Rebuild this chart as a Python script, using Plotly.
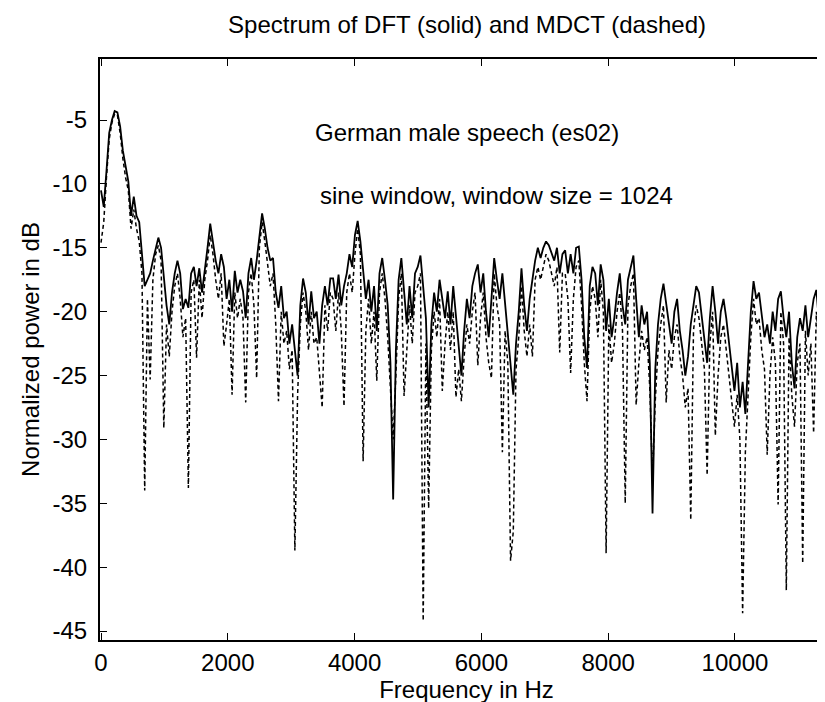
import numpy as np
import plotly.graph_objects as go

# Frequency bins: 1024-point transform at 44.1 kHz -> bin spacing 43.07 Hz
FS = 44100.0
NFFT = 1024
N_BINS = 270
freq_hz = np.arange(N_BINS) * FS / NFFT

# DFT spectrum (solid), dB
dft_db = [
    -10.5, -11.8, -9.0, -6.0, -5.0, -4.3, -4.4, -5.5, -7.4, -8.5,
    -9.8, -12.5, -11.0, -12.5, -13.0, -15.5, -18.0, -17.5, -17.0, -16.0,
    -15.0, -14.2, -15.0, -17.5, -19.5, -21.0, -18.5, -17.0, -16.0, -17.0,
    -19.8, -19.0, -19.7, -17.0, -16.5, -18.0, -16.6, -18.5, -16.5, -15.0,
    -13.1, -14.5, -16.0, -17.0, -15.5, -16.5, -19.0, -17.5, -20.0, -16.8,
    -18.5, -17.5, -18.4, -20.5, -17.0, -15.8, -17.5, -16.0, -14.0, -12.3,
    -13.5, -15.0, -16.0, -15.8, -18.5, -19.7, -18.0, -20.5, -20.0, -22.5,
    -21.0, -23.0, -25.0, -19.5, -17.4, -18.5, -21.0, -18.4, -20.5, -20.0,
    -22.5, -19.5, -18.0, -19.5, -17.4, -17.4, -19.0, -17.1, -19.5, -18.0,
    -17.0, -15.5, -16.5, -14.0, -12.9, -14.5, -17.0, -19.0, -17.5, -20.0,
    -18.0, -21.5, -17.0, -15.8, -17.5, -19.5, -24.0, -34.7, -23.0, -17.5,
    -15.8, -18.5, -21.0, -18.0, -20.5, -17.0, -16.5, -15.6, -18.0, -20.5,
    -27.5, -21.0, -18.5, -20.0, -17.5, -19.0, -20.5, -18.4, -21.0, -18.0,
    -20.5, -22.5, -25.0, -21.5, -19.0, -20.5, -18.0, -17.0, -16.3, -18.5,
    -17.0, -20.0, -22.0, -19.0, -15.8, -17.5, -19.0, -17.0, -19.5, -22.0,
    -24.0, -26.5, -22.5, -20.0, -16.6, -19.5, -21.5, -19.0, -17.5, -16.0,
    -15.0, -15.8, -15.0, -14.5, -14.8, -15.5, -16.0, -15.0, -17.0, -15.5,
    -15.2, -17.0, -15.5, -17.0, -15.0, -14.9, -17.5, -22.0, -24.4, -18.0,
    -16.5, -17.0, -19.5, -16.3, -17.5, -21.5, -19.0, -22.0, -20.5, -18.5,
    -17.0, -19.5, -21.0, -17.5, -16.5, -15.6, -19.0, -22.0, -19.5, -21.0,
    -20.0, -24.0, -35.8, -24.5, -21.0, -19.0, -17.8, -19.5, -21.0, -22.5,
    -20.0, -19.0, -21.5, -23.0, -25.0, -23.5, -21.0, -19.5, -18.0, -18.5,
    -20.5, -22.5, -24.0, -20.5, -18.0, -20.0, -22.5, -20.0, -19.0, -20.5,
    -22.5, -24.5, -26.2, -24.0, -27.5, -25.5, -28.0, -24.0, -20.0, -17.6,
    -19.0, -18.5, -20.5, -22.0, -21.0, -22.5, -20.0, -21.5, -19.0, -18.4,
    -20.5, -22.0, -20.0, -24.0, -26.0, -22.0, -20.5, -21.5, -19.5, -22.0,
    -20.5, -19.0, -18.3, -21.0, -23.5, -22.0, -25.0, -27.5, -25.5, -23.5,
]

# MDCT spectrum (dashed), dB
mdct_db = [
    -14.6, -13.0, -9.5, -6.5, -5.2, -4.5, -4.6, -6.0, -8.0, -9.5,
    -10.5, -13.5, -12.0, -13.5, -14.5, -17.0, -34.0, -19.0, -25.3, -17.5,
    -15.5, -14.8, -16.0, -29.1, -21.0, -23.5, -20.0, -18.0, -17.0, -19.0,
    -22.0, -20.5, -33.8, -18.5, -17.5, -23.6, -17.5, -20.5, -17.5, -16.0,
    -14.0, -15.5, -17.5, -19.0, -17.0, -22.7, -21.0, -19.0, -26.5, -18.5,
    -20.5, -19.0, -20.5, -27.1, -18.5, -17.0, -19.5, -25.2, -15.0, -13.0,
    -14.5, -16.5, -18.0, -17.0, -21.0, -27.0, -20.0, -22.5, -21.5, -24.5,
    -23.0, -38.7, -26.5, -21.0, -18.5, -20.0, -23.0, -20.0, -22.5, -22.0,
    -25.0, -27.5, -19.5, -21.5, -18.5, -19.0, -21.5, -18.5, -21.5, -27.4,
    -18.5, -17.0, -18.5, -15.5, -13.5, -15.5, -31.7, -21.5, -19.0, -22.5,
    -20.0, -25.4, -18.5, -17.0, -19.0, -22.0, -26.0, -30.0, -25.0, -19.0,
    -17.0, -26.6, -23.0, -19.5, -22.5, -18.5, -18.0, -17.0, -44.2, -22.5,
    -35.4, -23.0, -20.0, -22.0, -19.0, -26.2, -22.5, -20.0, -23.0, -20.0,
    -26.7, -24.5, -27.0, -23.5, -21.0, -22.5, -20.0, -18.5, -24.2, -20.5,
    -18.5, -22.0, -24.0, -25.2, -17.0, -19.5, -21.0, -31.0, -21.5, -24.0,
    -39.5, -37.2, -24.5, -22.0, -18.0, -21.5, -23.5, -21.0, -23.5, -17.5,
    -16.5, -17.5, -16.5, -15.5, -16.0, -17.0, -18.0, -16.5, -23.2, -17.0,
    -17.0, -19.0, -24.8, -19.0, -16.5, -16.0, -19.5, -24.0, -27.0, -20.0,
    -18.0, -19.0, -22.0, -17.5, -20.0, -38.9, -21.0, -24.0, -22.5, -20.0,
    -18.5, -21.5, -35.0, -19.5, -18.0, -17.0, -27.3, -24.0, -21.5, -23.0,
    -22.0, -26.0, -33.0, -27.0, -23.0, -21.0, -19.5, -27.1, -23.0, -24.5,
    -22.0, -21.0, -23.5, -25.0, -27.5, -26.0, -36.3, -21.5, -19.5, -20.5,
    -22.5, -24.5, -32.8, -22.5, -20.0, -29.7, -25.0, -22.0, -21.0, -23.0,
    -25.0, -27.0, -29.0, -26.5, -30.0, -43.6, -31.0, -26.5, -22.0, -19.0,
    -21.0, -20.5, -23.0, -24.5, -31.2, -25.0, -22.0, -24.0, -35.1, -20.0,
    -22.5, -41.8, -22.0, -26.5, -29.0, -24.0, -22.5, -39.7, -21.5, -25.0,
    -22.5, -29.5, -20.0, -23.0, -26.0, -31.2, -27.5, -30.0, -31.5, -27.0,
]

x_tick_vals = [0, 2000, 4000, 6000, 8000, 10000]
x_tick_text = ["0", "2000", "4000", "6000", "8000", "10000"]
y_tick_vals = [-45, -40, -35, -30, -25, -20, -15, -10, -5]
y_tick_text = ["-45", "-40", "-35", "-30", "-25", "-20", "-15", "-10", "-5"]

FONT = "Liberation Sans, Arial, Helvetica, sans-serif"

fig = go.Figure()
fig.add_trace(go.Scatter(
    x=freq_hz, y=mdct_db, mode="lines", name="MDCT",
    line=dict(color="black", width=1.5, dash="4px,3px"),
))
fig.add_trace(go.Scatter(
    x=freq_hz, y=dft_db, mode="lines", name="DFT",
    line=dict(color="black", width=1.8),
))

fig.update_layout(
    width=825, height=702,
    margin=dict(l=92, r=0, t=51, b=70),
    paper_bgcolor="white", plot_bgcolor="white",
    showlegend=False,
    font=dict(family=FONT, size=24, color="black"),
    title=dict(text="Spectrum of DFT (solid) and MDCT (dashed)",
               x=459 / 825, xanchor="center", y=1 - 17 / 702, yanchor="middle",
               font=dict(family=FONT, size=24, color="black")),
    xaxis=dict(
        range=[-16, 11546], tickvals=x_tick_vals, ticktext=x_tick_text,
        ticks="inside", ticklen=7, tickwidth=1, tickcolor="black",
        showline=True, linewidth=2, linecolor="black", mirror="ticks",
        showgrid=False, zeroline=False,
        tickfont=dict(family=FONT, size=24, color="black"),
        ticklabelstandoff=0,
        title=dict(text="Frequency in Hz", standoff=2,
                   font=dict(family=FONT, size=24, color="black")),
    ),
    yaxis=dict(
        range=[-45.7, -0.22], tickvals=y_tick_vals, ticktext=y_tick_text,
        ticks="inside", ticklen=7, tickwidth=1, tickcolor="black",
        showline=True, linewidth=2, linecolor="black",
        showgrid=False, zeroline=False,
        tickfont=dict(family=FONT, size=24, color="black"),
        ticklabelstandoff=6,
        title=dict(text="Normalized power in dB", standoff=6,
                   font=dict(family=FONT, size=24, color="black")),
    ),
    annotations=[
        dict(text="German male speech (es02)", xref="paper", yref="paper",
             x=(305 - 92) / 733, y=(632 - 125) / 581, xanchor="left", yanchor="middle",
             showarrow=False, font=dict(family=FONT, size=24, color="black")),
        dict(text="sine window, window size = 1024", xref="paper", yref="paper",
             x=(310 - 92) / 733, y=(632 - 187) / 581, xanchor="left", yanchor="middle",
             showarrow=False, font=dict(family=FONT, size=24, color="black")),
    ],
)

fig.write_html("out.html")
